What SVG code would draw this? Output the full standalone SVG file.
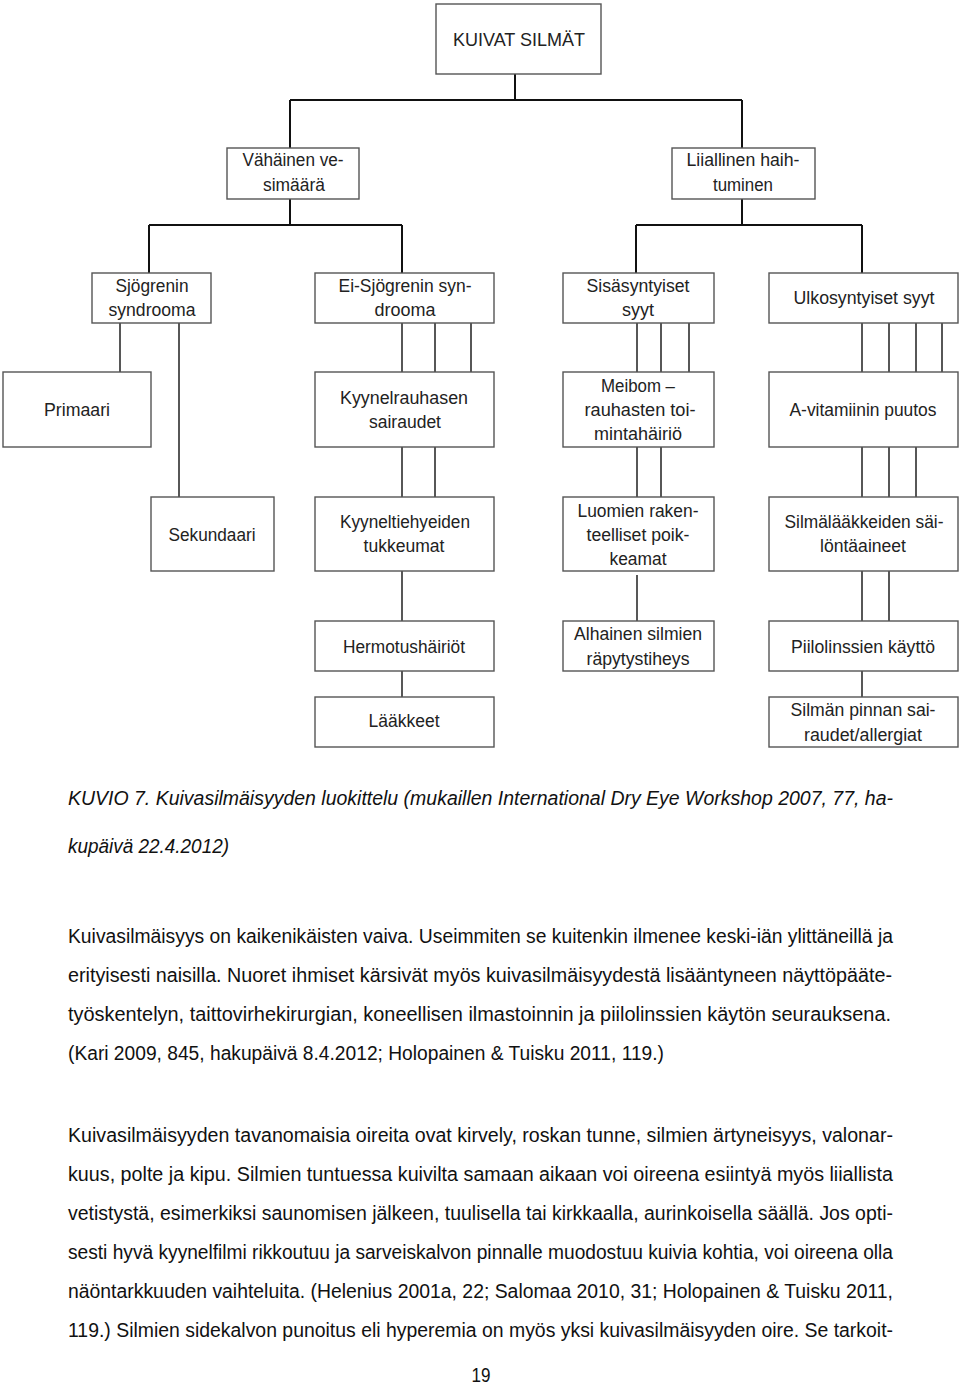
<svg xmlns="http://www.w3.org/2000/svg" width="960" height="1384" viewBox="0 0 960 1384">
<style>
.box{fill:#fff;stroke:#555;stroke-width:1.4}
.lbl{font-family:"Liberation Sans",Arial,sans-serif;font-size:18.3px;fill:#222;text-anchor:middle}
.c{stroke:#111;stroke-width:1.4;fill:none}
.ct{stroke:#111;stroke-width:2;fill:none}
.body{font-family:"Liberation Sans",Arial,sans-serif;font-size:20px;fill:#111}
.cap{font-style:italic}
</style>
<rect width="960" height="1384" fill="#fff"/>
<g id="connectors">
<path class="ct" d="M515 74V100M290 100H742M290 100V148M742 100V148"/>
<path class="ct" d="M290 199V225M149 225H402M149 225V273M402 225V273"/>
<path class="ct" d="M742 199V225M636 225H862M636 225V273M862 225V273"/>
<path class="c" d="M120 323V372M179 323V507"/>
<path class="c" d="M402 323V372M435 323V372M471 323V372"/>
<path class="c" d="M637 323V372M661 323V372M689 323V372"/>
<path class="c" d="M862 323V372M889 323V372M916 323V372M942 323V372"/>
<path class="c" d="M402 447V497M435 447V497"/>
<path class="c" d="M637 447V497M661 447V497"/>
<path class="c" d="M862 447V497M889 447V497M916 447V497"/>
<path class="c" d="M402 571V621"/>
<path class="c" d="M637 575V630"/>
<path class="c" d="M862 571V621M889 571V621"/>
<path class="c" d="M402 671V697"/>
<path class="c" d="M862 671V697"/>
</g>
<g id="n-kuivat"><rect class="box" x="436" y="4" width="165" height="70"/><text class="lbl" x="519" y="46" textLength="132" lengthAdjust="spacingAndGlyphs">KUIVAT SILMÄT</text></g>
<g id="n-vahainen"><rect class="box" x="227" y="148" width="132" height="51"/><text class="lbl" x="293" y="166" textLength="101" lengthAdjust="spacingAndGlyphs">Vähäinen ve-</text><text class="lbl" x="294" y="191" textLength="62" lengthAdjust="spacingAndGlyphs">simäärä</text></g>
<g id="n-liiallinen"><rect class="box" x="672" y="148" width="143" height="51"/><text class="lbl" x="743" y="166" textLength="113" lengthAdjust="spacingAndGlyphs">Liiallinen haih-</text><text class="lbl" x="743" y="191" textLength="60" lengthAdjust="spacingAndGlyphs">tuminen</text></g>
<g id="n-sjogren"><rect class="box" x="92" y="273" width="119" height="50"/><text class="lbl" x="152" y="292" textLength="73" lengthAdjust="spacingAndGlyphs">Sjögrenin</text><text class="lbl" x="152" y="316" textLength="87" lengthAdjust="spacingAndGlyphs">syndrooma</text></g>
<g id="n-eisjogren"><rect class="box" x="315" y="273" width="179" height="50"/><text class="lbl" x="405" y="292" textLength="133" lengthAdjust="spacingAndGlyphs">Ei-Sjögrenin syn-</text><text class="lbl" x="405" y="316" textLength="61" lengthAdjust="spacingAndGlyphs">drooma</text></g>
<g id="n-sisa"><rect class="box" x="563" y="273" width="151" height="50"/><text class="lbl" x="638" y="292" textLength="103" lengthAdjust="spacingAndGlyphs">Sisäsyntyiset</text><text class="lbl" x="638" y="316" textLength="32" lengthAdjust="spacingAndGlyphs">syyt</text></g>
<g id="n-ulko"><rect class="box" x="769" y="273" width="189" height="50"/><text class="lbl" x="864" y="304" textLength="141" lengthAdjust="spacingAndGlyphs">Ulkosyntyiset syyt</text></g>
<g id="n-primaari"><rect class="box" x="3" y="372" width="148" height="75"/><text class="lbl" x="77" y="416" textLength="66" lengthAdjust="spacingAndGlyphs">Primaari</text></g>
<g id="n-kyynelrauhasen"><rect class="box" x="315" y="372" width="179" height="75"/><text class="lbl" x="404" y="404" textLength="128" lengthAdjust="spacingAndGlyphs">Kyynelrauhasen</text><text class="lbl" x="405" y="428" textLength="72" lengthAdjust="spacingAndGlyphs">sairaudet</text></g>
<g id="n-meibom"><rect class="box" x="563" y="372" width="151" height="75"/><text class="lbl" x="638" y="392" textLength="74" lengthAdjust="spacingAndGlyphs">Meibom –</text><text class="lbl" x="640" y="416" textLength="111" lengthAdjust="spacingAndGlyphs">rauhasten toi-</text><text class="lbl" x="638" y="440" textLength="88" lengthAdjust="spacingAndGlyphs">mintahäiriö</text></g>
<g id="n-avitamiini"><rect class="box" x="769" y="372" width="189" height="75"/><text class="lbl" x="863" y="416" textLength="147" lengthAdjust="spacingAndGlyphs">A-vitamiinin puutos</text></g>
<g id="n-sekundaari"><rect class="box" x="151" y="497" width="123" height="74"/><text class="lbl" x="212" y="541" textLength="87" lengthAdjust="spacingAndGlyphs">Sekundaari</text></g>
<g id="n-kyyneltie"><rect class="box" x="315" y="497" width="179" height="74"/><text class="lbl" x="405" y="528" textLength="130" lengthAdjust="spacingAndGlyphs">Kyyneltiehyeiden</text><text class="lbl" x="404" y="552" textLength="81" lengthAdjust="spacingAndGlyphs">tukkeumat</text></g>
<g id="n-luomien"><rect class="box" x="563" y="497" width="151" height="74"/><text class="lbl" x="638" y="517" textLength="121" lengthAdjust="spacingAndGlyphs">Luomien raken-</text><text class="lbl" x="638" y="541" textLength="103" lengthAdjust="spacingAndGlyphs">teelliset poik-</text><text class="lbl" x="638" y="565" textLength="57" lengthAdjust="spacingAndGlyphs">keamat</text></g>
<g id="n-silmalaak"><rect class="box" x="769" y="497" width="189" height="74"/><text class="lbl" x="864" y="528" textLength="159" lengthAdjust="spacingAndGlyphs">Silmälääkkeiden säi-</text><text class="lbl" x="863" y="552" textLength="86" lengthAdjust="spacingAndGlyphs">löntäaineet</text></g>
<g id="n-hermo"><rect class="box" x="315" y="621" width="179" height="50"/><text class="lbl" x="404" y="653" textLength="122" lengthAdjust="spacingAndGlyphs">Hermotushäiriöt</text></g>
<g id="n-alhainen"><rect class="box" x="563" y="621" width="151" height="50"/><text class="lbl" x="638" y="640" textLength="128" lengthAdjust="spacingAndGlyphs">Alhainen silmien</text><text class="lbl" x="638" y="665" textLength="103" lengthAdjust="spacingAndGlyphs">räpytystiheys</text></g>
<g id="n-piilo"><rect class="box" x="769" y="621" width="189" height="50"/><text class="lbl" x="863" y="653" textLength="144" lengthAdjust="spacingAndGlyphs">Piilolinssien käyttö</text></g>
<g id="n-laakkeet"><rect class="box" x="315" y="697" width="179" height="50"/><text class="lbl" x="404" y="727" textLength="71" lengthAdjust="spacingAndGlyphs">Lääkkeet</text></g>
<g id="n-silmanpinta"><rect class="box" x="769" y="697" width="189" height="50"/><text class="lbl" x="863" y="716" textLength="145" lengthAdjust="spacingAndGlyphs">Silmän pinnan sai-</text><text class="lbl" x="863" y="741" textLength="118" lengthAdjust="spacingAndGlyphs">raudet/allergiat</text></g>
<g id="text">
<text class="body cap" x="68" y="805" textLength="825" lengthAdjust="spacingAndGlyphs">KUVIO 7. Kuivasilmäisyyden luokittelu (mukaillen International Dry Eye Workshop 2007, 77, ha-</text>
<text class="body cap" x="68" y="853" textLength="161" lengthAdjust="spacingAndGlyphs">kupäivä 22.4.2012)</text>
<text class="body" x="68" y="943" textLength="825" lengthAdjust="spacingAndGlyphs">Kuivasilmäisyys on kaikenikäisten vaiva. Useimmiten se kuitenkin ilmenee keski-iän ylittäneillä ja</text>
<text class="body" x="68" y="982" textLength="824" lengthAdjust="spacingAndGlyphs">erityisesti naisilla. Nuoret ihmiset kärsivät myös kuivasilmäisyydestä lisääntyneen näyttöpääte-</text>
<text class="body" x="68" y="1021" textLength="823" lengthAdjust="spacingAndGlyphs">työskentelyn, taittovirhekirurgian, koneellisen ilmastoinnin ja piilolinssien käytön seurauksena.</text>
<text class="body" x="68" y="1060" textLength="596" lengthAdjust="spacingAndGlyphs">(Kari 2009, 845, hakupäivä 8.4.2012; Holopainen &amp; Tuisku 2011, 119.)</text>
<text class="body" x="68" y="1142" textLength="825" lengthAdjust="spacingAndGlyphs">Kuivasilmäisyyden tavanomaisia oireita ovat kirvely, roskan tunne, silmien ärtyneisyys, valonar-</text>
<text class="body" x="68" y="1181" textLength="825" lengthAdjust="spacingAndGlyphs">kuus, polte ja kipu. Silmien tuntuessa kuivilta samaan aikaan voi oireena esiintyä myös liiallista</text>
<text class="body" x="68" y="1220" textLength="825" lengthAdjust="spacingAndGlyphs">vetistystä, esimerkiksi saunomisen jälkeen, tuulisella tai kirkkaalla, aurinkoisella säällä. Jos opti-</text>
<text class="body" x="68" y="1259" textLength="825" lengthAdjust="spacingAndGlyphs">sesti hyvä kyynelfilmi rikkoutuu ja sarveiskalvon pinnalle muodostuu kuivia kohtia, voi oireena olla</text>
<text class="body" x="68" y="1298" textLength="825" lengthAdjust="spacingAndGlyphs">näöntarkkuuden vaihteluita. (Helenius 2001a, 22; Salomaa 2010, 31; Holopainen &amp; Tuisku 2011,</text>
<text class="body" x="68" y="1337" textLength="825" lengthAdjust="spacingAndGlyphs">119.) Silmien sidekalvon punoitus eli hyperemia on myös yksi kuivasilmäisyyden oire. Se tarkoit-</text>
<text class="body" x="481" y="1382" text-anchor="middle" textLength="19" lengthAdjust="spacingAndGlyphs">19</text>
</g>
</svg>
